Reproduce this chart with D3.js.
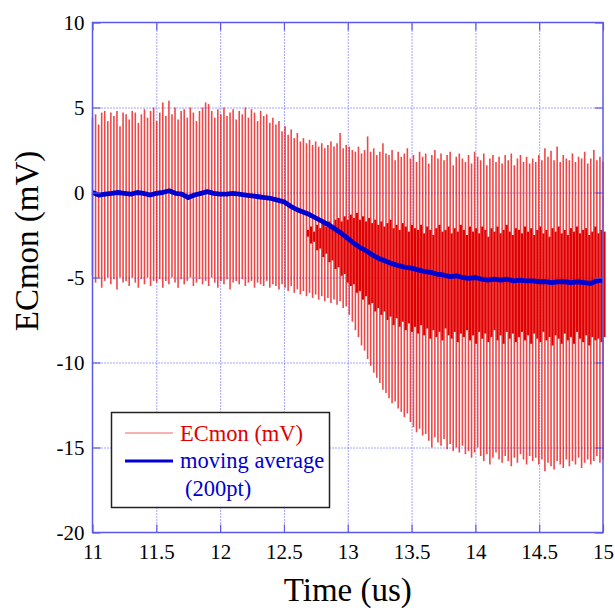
<html>
<head>
<meta charset="utf-8">
<script src="https://d3js.org/d3.v7.min.js"></script>
<title>ECmon</title>
<style>
    body { margin: 0; background: #fff; }
    text { font-family: "Liberation Serif", "Times New Roman", serif; }
    .grid line { stroke: #4a4aff; stroke-dasharray: 1,2; }
    .grid .domain { stroke: none; }
    .ticks line { stroke: #5a5ae6; stroke-width: 1.2; }
    .ticks .domain { stroke: none; }
    .lbl .domain, .lbl line { stroke: none; }
</style>
</head>
<body>
<svg id="chart"></svg>
<script>
// axis ticks
const xTicks = [11, 11.5, 12, 12.5, 13, 13.5, 14, 14.5, 15];
const yTicks = [-20, -15, -10, -5, 0, 5, 10];

// ECmon spikes: upper / lower peak of each cycle (mV), evenly spaced over 11..15 us
const spikeTop = [
    4.4, 4.6, 4.0, 4.7, 4.8, 4.2, 4.7, 4.5, 4.8, 3.9, 4.7, 4.6,
    4.3, 4.8, 4.7, 4.1, 4.6, 4.9, 4.4, 4.8, 5.0, 4.2, 4.7, 5.3,
    4.5, 5.4, 4.6, 5.0, 4.3, 4.8, 4.9, 4.4, 5.0, 4.7, 4.2, 4.8,
    5.0, 5.3, 5.2, 4.8, 4.4, 4.9, 4.6, 5.0, 4.5, 4.7, 4.9, 4.3,
    4.8, 4.6, 5.0, 4.4, 4.9, 4.7, 4.2, 4.8, 4.5, 4.6, 4.1, 4.4,
    4.0, 4.2, 3.6, 3.9, 3.4, 3.7, 3.2, 3.5, 3.0, 3.2, 2.9, 3.1,
    2.8, 3.0, 2.7, 2.9, 2.6, 2.8, 3.0, 2.7, 2.9, 3.5, 2.6, 2.8,
    2.7, 2.5, 2.4, 2.7, 2.3, 2.5, 3.3, 2.4, 2.6, 2.2, 2.4, 2.9,
    2.3, 2.2, 2.5, 1.9, 2.4, 2.1, 2.3, 2.6, 2.0, 2.2, 1.8, 2.4,
    2.1, 2.3, 1.7, 2.2, 2.5, 2.0, 2.3, 1.9, 2.2, 2.4, 1.6, 2.1,
    2.3, 2.0, 1.8, 2.2, 1.7, 2.4, 2.1, 1.9, 2.3, 1.6, 2.0, 2.2,
    1.8, 2.1, 1.7, 2.2, 1.9, 2.3, 1.6, 2.0, 2.2, 1.8, 2.1, 1.7,
    2.0, 1.8, 2.2, 1.9, 2.6, 2.1, 2.45, 1.9, 2.7, 1.8, 2.2, 2.0,
    1.9, 2.3, 1.8, 2.1, 2.0, 2.4, 1.7, 2.0, 2.5, 1.9, 2.1, 1.8
];
const spikeBot = [
    -4.9, -5.3, -5.0, -5.6, -5.2, -5.0, -5.4, -5.1, -5.7, -5.0, -5.3, -5.2,
    -5.5, -5.0, -5.3, -5.6, -5.1, -5.4, -5.0, -5.5, -5.2, -5.3, -5.1, -5.6,
    -5.2, -5.4, -5.0, -5.3, -5.6, -5.1, -5.4, -5.2, -5.0, -5.5, -5.3, -5.1,
    -5.4, -5.2, -5.5, -5.0, -5.3, -5.6, -5.2, -5.4, -5.1, -5.7, -5.3, -5.2,
    -5.4, -5.1, -5.5, -5.3, -5.2, -5.6, -5.3, -5.4, -5.5, -5.2, -5.6, -5.4,
    -5.5, -5.7, -5.4, -5.6, -5.8, -5.5, -5.9, -5.7, -6.0, -5.8, -6.1, -5.9,
    -6.2, -6.0, -6.3, -6.1, -6.4, -6.2, -6.5, -6.3, -6.6, -6.4, -6.8, -6.7,
    -7.2, -7.6, -8.1, -8.5, -9.0, -9.3, -9.8, -10.2, -10.6, -10.9, -11.2, -11.6,
    -11.8, -12.1, -12.4, -12.3, -12.7, -12.9, -13.2, -13.0, -13.5, -13.8, -14.1, -13.9,
    -14.3, -14.2, -14.6, -15.0, -14.4, -14.7, -14.9, -14.5, -15.1, -14.8, -15.2, -15.0,
    -15.3, -14.9, -15.4, -15.2, -15.6, -15.3, -15.0, -15.5, -15.8, -15.4, -16.0, -15.6,
    -15.3, -15.7, -15.9, -15.5, -15.8, -16.1, -15.6, -15.9, -15.4, -15.7, -16.0, -15.5,
    -15.8, -15.6, -16.0, -15.7, -16.4, -15.9, -16.1, -16.3, -15.8, -16.0, -16.2, -15.7,
    -16.1, -15.8, -16.0, -15.6, -16.2, -15.9, -15.7, -16.0, -15.8, -15.5, -15.9, -15.7
];

// dense core of the signal: extra swing between spikes, from spike #70 onward
const coreFirst = 70;
const coreHi = [
    -2.2, -2.0, -2.3, -1.9, -2.1, -1.8, -2.0, -1.7, -1.9, -1.6, -1.5, -1.7,
    -1.4, -1.6, -1.3, -1.5, -1.2, -1.6, -1.4, -1.7, -1.5, -1.8, -1.6, -1.9,
    -1.7, -2.0, -1.8, -1.6, -2.1, -1.9, -2.2, -1.8, -2.0, -2.3, -1.9, -2.1,
    -2.2, -1.9, -2.4, -2.0, -2.2, -2.5, -2.1, -1.9, -2.3, -2.2, -2.0, -2.4,
    -2.1, -2.3, -1.9, -2.2, -2.5, -2.0, -2.3, -2.1, -2.4, -2.0, -2.2, -2.6,
    -2.1, -2.3, -2.0, -2.4, -2.2, -1.9, -2.3, -2.5, -2.1, -2.2, -2.4, -2.0,
    -2.3, -2.1, -2.5, -2.2, -2.0, -2.4, -2.2, -2.6, -2.1, -2.3, -2.0, -2.4,
    -2.2, -2.5, -2.1, -2.3, -2.0, -2.4, -2.2, -2.1, -2.5, -2.3, -2.0, -2.4,
    -2.2, -2.3
];
const coreLo = [
    -2.6, -3.0, -2.9, -3.4, -3.3, -3.8, -3.6, -4.1, -4.0, -4.5, -4.4, -4.9,
    -4.8, -5.3, -5.5, -5.4, -5.9, -5.8, -6.3, -6.1, -6.6, -6.5, -7.0, -6.8,
    -7.2, -7.0, -7.5, -7.3, -7.8, -7.4, -7.9, -7.6, -8.1, -7.7, -8.2, -7.9,
    -8.3, -7.8, -8.4, -8.0, -8.6, -8.1, -8.5, -8.2, -8.7, -8.0, -8.4, -8.6,
    -8.2, -8.8, -8.3, -8.5, -8.1, -8.7, -8.4, -8.9, -8.2, -8.6, -8.3, -8.8,
    -8.5, -8.1, -8.7, -8.4, -8.9, -8.2, -8.6, -8.3, -8.8, -8.5, -8.2, -8.7,
    -8.4, -8.9, -8.3, -8.6, -8.8, -8.2, -8.7, -8.5, -9.0, -8.4, -8.6, -8.9,
    -8.3, -8.7, -8.5, -8.9, -8.2, -8.6, -8.8, -8.4, -9.0, -8.5, -8.7, -8.6,
    -8.8, -8.5
];

// moving average (200pt), every 0.05 us from 11 to 15
const avgStart = 11, avgStep = 0.05;
const avgValues = [
    0.0, -0.15, -0.1, -0.05, 0.0, -0.05, -0.1, 0.0, -0.05, -0.15,
    -0.05, 0.0, 0.1, -0.05, -0.1, -0.3, -0.15, -0.05, 0.05, -0.05,
    -0.1, -0.1, -0.05, -0.1, -0.15, -0.2, -0.25, -0.3, -0.35, -0.45,
    -0.55, -0.8, -1.0, -1.15, -1.3, -1.5, -1.7, -1.9, -2.15, -2.4,
    -2.7, -3.0, -3.25, -3.45, -3.7, -3.9, -4.05, -4.2, -4.3, -4.4,
    -4.45, -4.55, -4.65, -4.7, -4.8, -4.85, -4.95, -4.9, -5.0, -5.05,
    -5.0, -5.1, -5.15, -5.1, -5.15, -5.1, -5.2, -5.15, -5.2, -5.2,
    -5.25, -5.25, -5.3, -5.25, -5.25, -5.3, -5.25, -5.3, -5.35, -5.2,
    -5.15
];

const width = 615, height = 611;
const margins = {top: 22.5, right: 12, bottom: 78.5, left: 92.5};
const chartWidth = width - margins.left - margins.right;
const chartHeight = height - margins.top - margins.bottom;
const serif = '"Liberation Serif", "Times New Roman", serif';

let svg = d3.select("svg#chart")
            .attr("width", width)
            .attr("height", height);

const scaleX = d3.scaleLinear().domain([11, 15]).range([0, chartWidth]);
const scaleY = d3.scaleLinear().domain([-20, 10]).range([chartHeight, 0]);

let chartArea = svg.append("g")
                   .attr("transform", `translate(${margins.left}, ${margins.top})`);

// gridlines
chartArea.append("g")
         .attr("class", "grid")
         .call(d3.axisLeft(scaleY).tickValues(yTicks.slice(1, -1)).tickSize(-chartWidth).tickFormat(""));
chartArea.append("g")
         .attr("class", "grid")
         .attr("transform", `translate(0, ${chartHeight})`)
         .call(d3.axisBottom(scaleX).tickValues(xTicks.slice(1, -1)).tickSize(-chartHeight).tickFormat(""));

// signal
const spikeStep = 4 / (spikeTop.length - 1);
const spikeData = spikeTop.map((t, i) => ({time: 11 + i * spikeStep, top: t, bot: spikeBot[i]}));
const coreData = coreHi.map((h, i) => ({time: 11 + (coreFirst + i + 0.5) * spikeStep, hi: h, lo: coreLo[i]}));

chartArea.append("g")
         .selectAll("line")
         .data(coreData)
         .join("line")
         .attr("x1", d => scaleX(d.time))
         .attr("x2", d => scaleX(d.time))
         .attr("y1", d => scaleY(d.hi))
         .attr("y2", d => scaleY(d.lo))
         .attr("stroke", "#dd0000")
         .attr("stroke-width", 2.1);

chartArea.append("g")
         .selectAll("line")
         .data(spikeData)
         .join("line")
         .attr("x1", d => scaleX(d.time))
         .attr("x2", d => scaleX(d.time))
         .attr("y1", d => scaleY(d.top))
         .attr("y2", d => scaleY(d.bot))
         .attr("stroke", "#e80000")
         .attr("stroke-opacity", 0.72)
         .attr("stroke-width", 1.6);

// moving average
const avgData = avgValues.map((v, i) => ({time: avgStart + i * avgStep, value: v}));
chartArea.append("path")
         .datum(avgData)
         .attr("fill", "none")
         .attr("stroke", "#0000d0")
         .attr("stroke-width", 4.8)
         .attr("stroke-linejoin", "round")
         .attr("d", d3.line().x(d => scaleX(d.time)).y(d => scaleY(d.value)));

// inward ticks on all four sides
chartArea.append("g").attr("class", "ticks")
         .attr("transform", `translate(0, ${chartHeight})`)
         .call(d3.axisTop(scaleX).tickValues(xTicks).tickSize(8).tickFormat(""));
chartArea.append("g").attr("class", "ticks")
         .call(d3.axisBottom(scaleX).tickValues(xTicks).tickSize(8).tickFormat(""));
chartArea.append("g").attr("class", "ticks")
         .call(d3.axisRight(scaleY).tickValues(yTicks).tickSize(8).tickFormat(""));
chartArea.append("g").attr("class", "ticks")
         .attr("transform", `translate(${chartWidth}, 0)`)
         .call(d3.axisLeft(scaleY).tickValues(yTicks).tickSize(8).tickFormat(""));

// frame
chartArea.append("rect")
         .attr("width", chartWidth)
         .attr("height", chartHeight)
         .attr("fill", "none")
         .attr("stroke", "#5a5ae6")
         .attr("stroke-width", 1.5);

// tick labels
let xLabels = chartArea.append("g").attr("class", "lbl")
         .attr("transform", `translate(0, ${chartHeight})`)
         .call(d3.axisBottom(scaleX).tickValues(xTicks).tickSize(0).tickPadding(12).tickFormat(d => String(d)));
let yLabels = chartArea.append("g").attr("class", "lbl")
         .call(d3.axisLeft(scaleY).tickValues(yTicks).tickSize(0).tickPadding(8).tickFormat(d => String(d)));
[xLabels, yLabels].forEach(g => g.attr("font-family", serif).attr("font-size", 21)
    .selectAll("text").style("font-family", serif).style("font-size", "21px").attr("fill", "#000"));

// axis titles
svg.append("text")
   .attr("x", margins.left + chartWidth / 2)
   .attr("y", 601)
   .attr("text-anchor", "middle")
   .style("font-family", serif)
   .attr("font-size", 33)
   .text("Time (us)");
svg.append("text")
   .attr("transform", "translate(38, 241) rotate(-90)")
   .attr("text-anchor", "middle")
   .style("font-family", serif)
   .attr("font-size", 33)
   .text("ECmon (mV)");

// legend
let legend = svg.append("g").style("font-family", serif);
legend.append("rect")
      .attr("x", 111.5).attr("y", 412.5)
      .attr("width", 218).attr("height", 95)
      .attr("fill", "#fff")
      .attr("stroke", "#222")
      .attr("stroke-width", 1.5);
legend.append("line")
      .attr("x1", 125).attr("x2", 173).attr("y1", 433).attr("y2", 433)
      .attr("stroke", "#e80000").attr("stroke-width", 1).attr("opacity", 0.6);
legend.append("text")
      .attr("x", 180).attr("y", 441)
      .attr("font-size", 22.5).attr("fill", "#e00000")
      .text("ECmon (mV)");
legend.append("line")
      .attr("x1", 125).attr("x2", 173).attr("y1", 461).attr("y2", 461)
      .attr("stroke", "#0000d0").attr("stroke-width", 3);
legend.append("text")
      .attr("x", 180).attr("y", 468)
      .attr("font-size", 22.5).attr("fill", "#0000d0")
      .text("moving average");
legend.append("text")
      .attr("x", 185).attr("y", 496)
      .attr("font-size", 22.5).attr("fill", "#0000d0")
      .text("(200pt)");
</script>
</body>
</html>
